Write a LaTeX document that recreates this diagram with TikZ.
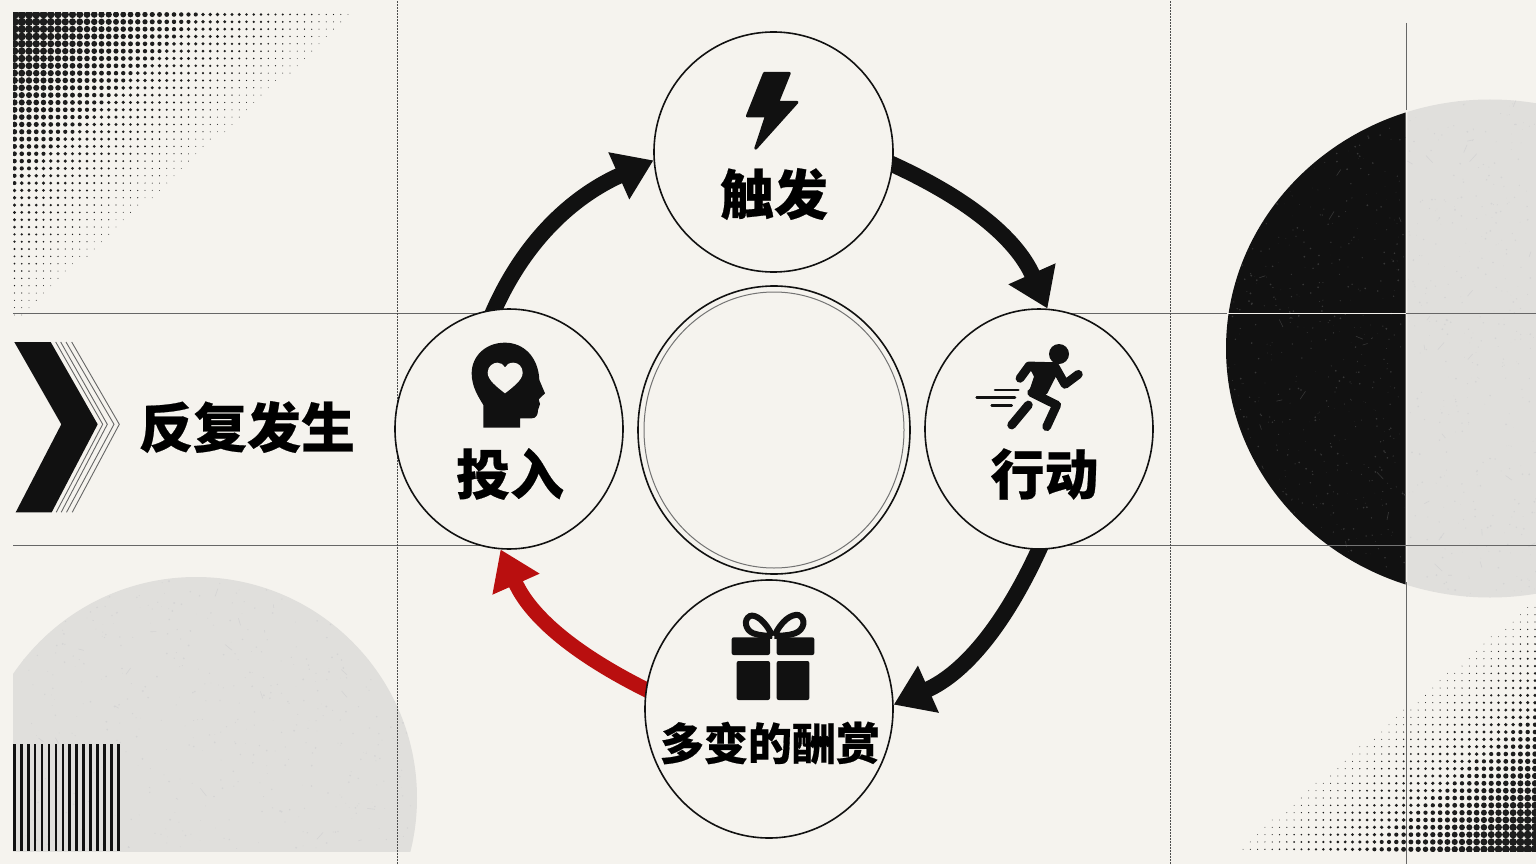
\documentclass[tikz,border=0pt]{standalone}
\usepackage{fontspec}
\usetikzlibrary{arrows.meta,backgrounds,shapes.geometric}
\newfontfamily\cjk[FakeBold=0.4]{Noto Sans CJK SC Black}
\definecolor{paper}{HTML}{F5F3EE}
\definecolor{ink}{HTML}{111111}
\definecolor{pale}{HTML}{E0DFDC}
\definecolor{rust}{HTML}{B90F0F}
\tikzset{
  stepring/.style={ellipse,draw=ink,line width=0.8pt,fill=paper,inner sep=0pt},
  steplabel/.style={font=\cjk\fontsize{27}{27}\selectfont,text=black,inner sep=0pt},
  gridline/.style={black!60,line width=0.5pt},
  dotline/.style={black!70,line width=0.5pt,dash pattern=on 1pt off 0.5pt},
  flow/.style={line width=8pt,ink,shorten <=-4pt,looseness=0.95,-{Triangle[width=24.5pt,length=19pt]}},
  zoomed/.style={x=0.16667pt,y=-0.16667pt}
}
\newcommand{\grain}[6]{%count, colour, x, y, width, height
  \foreach \k in {1,...,#1}
    \fill[#2] (#3+#5*rnd,#4+#6*rnd) circle [radius=0.2+0.8*rnd];
  \foreach \k in {1,...,25}
    \draw[#2,line width=0.3pt] (#3+#5*rnd,#4+#6*rnd) -- ++(-8+16*rnd,-8+16*rnd);
}
\begin{document}
\begin{tikzpicture}[x=0.5pt,y=0.5pt]
\useasboundingbox (0,0) rectangle (1536,864);
\pgfmathsetseed{7}

%the four steps, each ellipse is a little taller than wide
\node[stepring,minimum width=119.5pt,minimum height=120pt] (chufa) at (773.5,712) {};
\node[stepring,minimum width=114pt,minimum height=120pt] (xingdong) at (1039,435) {};
\node[stepring,minimum width=124pt,minimum height=129pt] (jiangshang) at (769,155) {};
\node[stepring,minimum width=114pt,minimum height=120pt] (touru) at (509,435) {};
\node[ellipse,draw=ink,line width=0.8pt,inner sep=0pt,minimum width=136pt,minimum height=144pt] (ringout) at (774,434) {};
\node[ellipse,draw=black!55,line width=0.5pt,inner sep=0pt,minimum width=130pt,minimum height=138pt] (ringin) at (774,434) {};

\node[steplabel] (chufatext) at (774,670) {触发};
\node[steplabel] (xingdongtext) at (1044.5,390) {行动};
\node[steplabel] (tourutext) at (510,390) {投入};
\node[steplabel,font=\cjk\fontsize{22}{22}\selectfont] (jiangshangtext) at (770,121) {多变的酬赏};
\node[steplabel] (titletext) at (247,437) {反复发生};

\begin{scope}[on background layer]
\fill[paper] (0,0) rectangle (1536,864);

%halftone corners
\begin{scope}
\clip (13,520) rectangle (400,851);
\foreach \i in {0,...,46}
  \foreach \j in {0,...,41} {
    \pgfmathsetmacro\t{\i/47+\j/42}
    \ifdim\t pt<1pt
      \pgfmathsetmacro\r{0.4+4*(1-\t)^1.15}
      \fill[ink!95] (14.5+7.25*\i,849.5-7.33*\j) circle [radius=\r];
    \fi
  }
\end{scope}
\begin{scope}
\clip (1200,13) rectangle (1536,300);
\foreach \i in {0,...,40}
  \foreach \j in {0,...,33} {
    \pgfmathsetmacro\t{\i/41+\j/34}
    \ifdim\t pt<1pt
      \pgfmathsetmacro\r{0.4+4*(1-\t)^1.15}
      \fill[ink!95] (1535-7.3*\i,14.7+7.33*\j) circle [radius=\r];
    \fi
  }
\end{scope}

%pale half disc, bottom left
\begin{scope}
  \clip (13,13) rectangle (430,300);
  \clip (196,66) circle [radius=221];
  \fill[pale] (0,0) rectangle (430,300);
  \grain{500}{black!17}{13}{13}{410}{285}
\end{scope}
\foreach \i in {0,...,15}
  \fill[ink] (13+6.93*\i,13) rectangle (15.7+6.93*\i,119.7);

%big disc on the right, split in two
\begin{scope}
  \clip (1200,0) rectangle (1405.7,864);
  \clip (1490,515.5) ellipse [x radius=264,y radius=249];
  \fill[ink] (1200,200) rectangle (1406,800);
  \grain{700}{white!16!ink}{1210}{260}{196}{510}
\end{scope}
\begin{scope}
  \clip (1407.3,0) rectangle (1536,864);
  \clip (1490,515.5) ellipse [x radius=264,y radius=249];
  \fill[pale] (1400,200) rectangle (1536,800);
  \grain{350}{black!17}{1407}{260}{129}{510}
\end{scope}

%grid
\draw[gridline] (13,551) -- (509,551);
\draw[gridline] (13,319) -- (509,319);
\draw[gridline] (1039,551) -- (1536,551);
\draw[gridline] (1039,319) -- (1536,319);
\draw[paper,line width=0.5pt] (1227,551) -- (1405.7,551);
\draw[black!55,line width=0.5pt] (1331,319) -- (1405.7,319);
\draw[dotline] (397.5,0) -- (397.5,864);
\draw[dotline] (1170,0) -- (1170,864);
\draw[gridline] (1406.5,841) -- (1406.5,754);
\draw[gridline] (1406.5,282) -- (1406.5,0);

%cycle arrows
\draw[flow] (chufa.-6) to[out=-24,in=114] (xingdong.86);
\draw[flow] (xingdong.-90) to[out=-114,in=24] (jiangshang.2);
\draw[flow,rust,line width=7.5pt] (jiangshang.171) to[out=154,in=-66] (touru.-94);
\draw[flow] (touru.97) to[out=67,in=204] (chufa.184);
\end{scope}

%chevron
\fill[ink] (14.3,522) -- (50.7,522) -- (97.7,439.7) -- (51.7,351.7) -- (15.7,351.7) -- (61.3,439.7) -- cycle;
\foreach \a/\b in {55.7/102.7,60.7/107.3,66/114,71.7/119.3}
  \draw[black!60,line width=0.45pt] (\a,522) -- (\b,439.7) -- (\a+0.5,351.7);

%bolt
\begin{scope}[shift={(700,814)},zoomed]
  \draw[ink,fill=ink,line width=1.4pt,line join=round] (193,70) -- (268,70) -- (233,157) -- (291,157) -- (167,295) -- (199,198) -- (142,198) -- cycle;
\end{scope}

%runner
\begin{scope}[shift={(960,534)},zoomed]
  \fill[ink] (297,72) circle [radius=30];
  \draw[ink,line width=4.4pt,line cap=round,line join=round] (180,145) -- (207,108) -- (285,110) -- (315,163) -- (355,133);
  \fill[ink] (200,97) -- (282,97) -- (295,125) -- (262,190) -- (240,208) -- (205,190) -- (222,140) -- cycle;
  \draw[ink,line width=4.4pt,line cap=round,line join=round] (215,188) -- (290,225) -- (260,290);
  \draw[ink,line width=4.4pt,line cap=round] (205,225) -- (155,285);
  \draw[ink,line width=1.3pt,line cap=round] (105,180) -- (175,180) (50,203) -- (165,203) (95,227) -- (155,227);
\end{scope}

%head with heart
\begin{scope}[shift={(450,534)},zoomed]
  \fill[ink] (100,293) -- (210,293) -- (210,265) -- (245,265) .. controls (258,265) and (264,255) .. (264,240) -- (270,222) -- (266,208) -- (285,190) -- (268,150) .. controls (265,80) and (220,38) .. (165,38) .. controls (105,38) and (65,80) .. (65,130) .. controls (65,170) and (85,200) .. (100,225) -- cycle;
  \fill[paper] (165,190) .. controls (140,170) and (113,150) .. (113,128) .. controls (113,108) and (130,98) .. (142,98) .. controls (152,98) and (160,103) .. (165,112) .. controls (170,103) and (178,98) .. (190,98) .. controls (205,98) and (218,110) .. (218,128) .. controls (218,150) and (190,170) .. (165,190) -- cycle;
\end{scope}

%gift
\begin{scope}[shift={(715,264)},zoomed]
  \fill[ink,rounded corners=1pt] (50,112) rectangle (165,165);
  \fill[ink,rounded corners=1pt] (185,112) rectangle (298,165);
  \fill[ink,rounded corners=1pt] (65,183) rectangle (165,300);
  \fill[ink,rounded corners=1pt] (185,183) rectangle (283,300);
  \draw[ink,line width=3pt] (172,108) .. controls (150,60) and (120,42) .. (105,48) .. controls (85,58) and (90,90) .. (115,100) .. controls (135,107) and (155,107) .. (172,108);
  \draw[ink,line width=3pt] (178,108) .. controls (200,60) and (230,42) .. (250,45) .. controls (275,55) and (268,90) .. (240,100) .. controls (220,107) and (195,107) .. (178,108);
\end{scope}

\end{tikzpicture}
\end{document}
